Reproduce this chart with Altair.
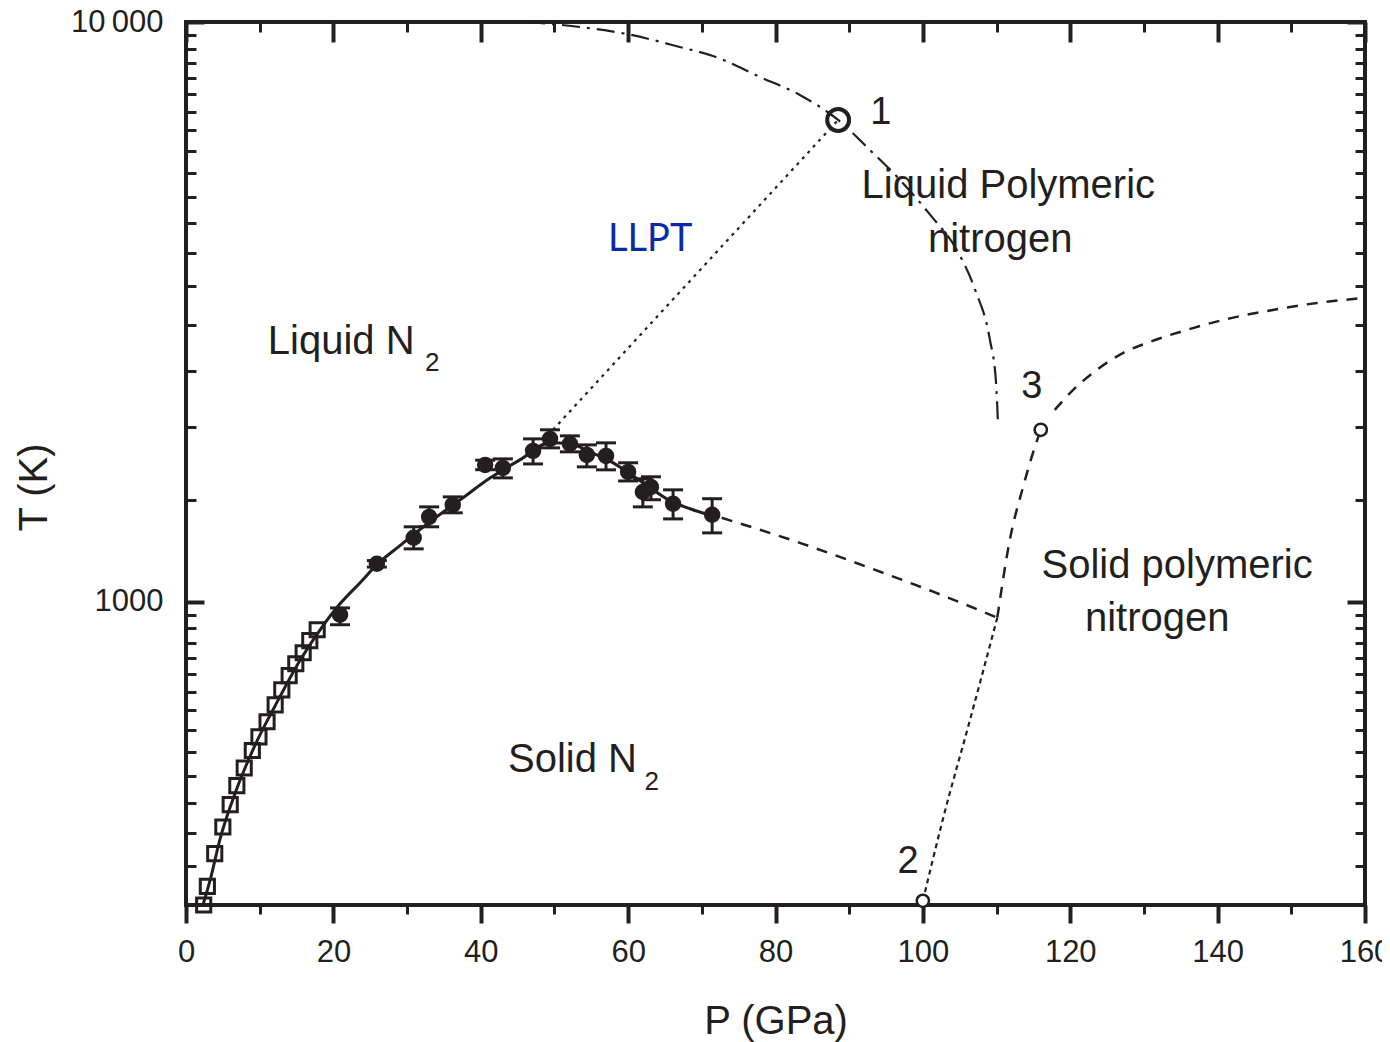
import altair as alt
import pandas as pd

# ---------------- data ----------------
# open squares (low-pressure melting data)
sq_P = [2.4, 2.9, 3.9, 5.0, 6.0, 6.9, 7.9, 9.0, 9.9, 11.0, 12.1, 13.0, 14.0, 14.9, 15.9, 16.8, 17.8]
sq_T = [300, 323, 368, 409, 447, 482, 517, 554, 585, 621, 664, 705, 746, 782, 817, 857, 895]

# filled circles with error bars
ci_P = [20.9, 25.9, 30.9, 33.0, 36.2, 40.6, 43.0, 47.1, 49.4, 52.1, 54.4, 57.0, 60.0, 62.0, 63.1, 66.1, 71.4]
ci_T = [950, 1163, 1290, 1401, 1470, 1722, 1702, 1821, 1910, 1873, 1792, 1785, 1675, 1547, 1578, 1476, 1413]
ci_lo = [913, 1148, 1234, 1347, 1424, 1690, 1636, 1729, 1843, 1814, 1709, 1689, 1616, 1458, 1500, 1390, 1315]
ci_hi = [976, 1178, 1347, 1458, 1517, 1755, 1764, 1910, 1980, 1933, 1865, 1880, 1737, 1630, 1643, 1560, 1506]

# solid melting curve
fit_P = [2.3, 3.3, 4.6, 6.7, 9.4, 12.1, 15.5, 18.2, 20.9, 23.6, 25.9, 29.0, 33.1, 37.2, 41.3,
         45.3, 49.4, 52.1, 54.8, 57.5, 60.3, 63.0, 65.7, 68.4, 71.4]
fit_T = [300, 332, 389, 469, 567, 662, 794, 895, 992, 1078, 1159, 1249, 1374, 1499, 1636,
         1757, 1880, 1873, 1814, 1750, 1662, 1572, 1493, 1447, 1407]

# dashed extrapolated melting line
ext_P = [72.7, 83.3, 92.4, 101.4, 110.1]
ext_T = [1396, 1264, 1149, 1041, 939]

# dotted LLPT line (to point 1)
llpt_P = [49.8, 88.5]
llpt_T = [1980, 6777]

# dash-dot line through point 1
dd_P = [46.3, 53.5, 59.8, 67.0, 71.5, 77.9, 83.3, 88.5, 92.8, 96.9, 101.0, 104.6, 107.1, 109.1, 109.9, 110.2]
dd_T = [10000, 9803, 9535, 9056, 8737, 8037, 7484, 6777, 6016, 5340, 4648, 4045, 3451, 2829, 2414, 2019]

# dotted line from point 2 to the junction
dot2_P = [100.0, 102.7, 106.4, 110.1]
dot2_T = [305, 421, 626, 939]

# dashed line from junction to point 3
dj3_P = [110.1, 111.8, 113.6, 115.2, 116.0]
dj3_T = [939, 1279, 1578, 1850, 1980]

# dashed line from point 3 to the right
d3r_P = [117.9, 120.4, 123.6, 127.2, 130.8, 135.8, 141.3, 147.5, 153.5, 160.0]
d3r_T = [2143, 2320, 2512, 2688, 2807, 2944, 3075, 3187, 3277, 3343]

# special points
pt1_P, pt1_T = [88.5], [6777]
pt23_P, pt23_T = [100.0, 116.0], [305, 1980]

# axis ticks
x_major = [0, 20, 40, 60, 80, 100, 120, 140, 160]
x_minor = [10, 30, 50, 70, 90, 110, 130, 150]
y_major = [1000, 10000]
y_minor = [350, 400, 450, 500, 550, 600, 650, 700, 750, 800, 850, 900, 950,
           1500, 2000, 2500, 3000, 3500, 4000, 4500, 5000, 5500, 6000, 6500,
           7000, 7500, 8000, 8500, 9000, 9500]

# text labels
lab_left_text = ["Liquid N", "Solid N"]
lab_left_P = [11.1, 43.7]
lab_left_T = [2807, 534]
sub_text = ["2", "2"]
sub_P = [33.4, 63.2]
sub_T = [2583, 489]
lab_c_text = ["Liquid Polymeric", "nitrogen", "Solid polymeric", "nitrogen", "1", "2", "3"]
lab_c_P = [111.6, 110.5, 134.5, 131.8, 94.3, 98.0, 114.8]
lab_c_T = [5214, 4208, 1154, 935, 6967, 356, 2348]
lab_c_size = [40, 40, 40, 40, 38, 38, 38]
llpt_text = ["LLPT"]
llpt_tP = [63.0]
llpt_tT = [4208]

# ---------------- chart ----------------
INK = "#231f20"
FONT = "Liberation Sans"
xs = alt.Scale(domain=[0, 160], nice=False, zero=False)
ys = alt.Scale(type="log", domain=[300, 10000], nice=False)


def df(P, T, **extra):
    d = {"P": P, "T": T}
    d.update(extra)
    d = pd.DataFrame(d)
    d["i"] = range(len(d))
    return d


def ax(orient, values, size, width, offset=0, **kw):
    return alt.Axis(orient=orient, values=values, tickSize=size, tickWidth=width,
                    tickColor=INK, domain=False, grid=False, offset=offset,
                    labels=kw.pop("labels", False), title=kw.pop("title", None), **kw)


ax_bottom_major = ax("bottom", x_major, 18, 4, labels=True, title="P (GPa)",
                     labelFont=FONT, labelFontSize=31, labelColor=INK, labelPadding=38,
                     labelBaseline="alphabetic", labelFlush=False, labelOverlap=False,
                     titleFont=FONT, titleFontSize=40, titleFontWeight="normal", titleColor=INK,
                     titleY=128, titleBaseline="alphabetic")
ax_bottom_minor = ax("bottom", x_minor, 9, 3)
ax_top_major = ax("top", x_major, 20, 4, offset=-20)
ax_top_minor = ax("top", x_minor, 10, 3, offset=-10)
ax_left_major = ax("left", y_major, 18, 4, offset=-18, labels=True, title="T (K)",
                   labelFont=FONT, labelFontSize=31, labelColor=INK, labelPadding=23,
                   labelFlush=False, labelOverlap=False,
                   labelExpr="datum.value >= 10000 ? '10\u2009000' : '1000'",
                   titleFont=FONT, titleFontSize=40, titleFontWeight="normal", titleColor=INK,
                   titleX=-158, titleY=465, titleBaseline="alphabetic", titleAngle=270)
ax_left_minor = ax("left", y_minor, 10, 3, offset=-10)
ax_right_major = ax("right", y_major, 18, 4, offset=-18)
ax_right_minor = ax("right", y_minor, 10, 3, offset=-10)


def enc(xaxis=None, yaxis=None):
    return dict(
        x=alt.X("P:Q", scale=xs, axis=xaxis),
        y=alt.Y("T:Q", scale=ys, axis=yaxis),
    )


fit = alt.Chart(df(fit_P, fit_T)).mark_line(color=INK, strokeWidth=3, interpolate="monotone").encode(
    order="i:Q", **enc(ax_bottom_major, ax_left_major))

squares = alt.Chart(df(sq_P, sq_T)).mark_square(filled=False, size=200, strokeWidth=3, color=INK, opacity=1).encode(
    **enc(ax_bottom_minor, ax_left_minor))

circ_df = df(ci_P, ci_T, lo=ci_lo, hi=ci_hi)
circles = alt.Chart(circ_df).mark_circle(size=270, color=INK, opacity=1).encode(
    **enc(ax_top_major, ax_right_major))

err = alt.Chart(circ_df).mark_rule(color=INK, strokeWidth=3).encode(
    x=alt.X("P:Q", scale=xs, axis=ax_top_minor),
    y=alt.Y("lo:Q", scale=ys, axis=ax_right_minor),
    y2="hi:Q")

caps = alt.Chart(circ_df).transform_fold(["lo", "hi"], as_=["k", "v"]).mark_tick(
    orient="horizontal", size=20, thickness=3, color=INK, opacity=1).encode(
    x=alt.X("P:Q", scale=xs, axis=None),
    y=alt.Y("v:Q", scale=ys, axis=None))


def line(P, T, dash, width=2.5):
    return alt.Chart(df(P, T)).mark_line(color=INK, strokeWidth=width, strokeDash=dash,
                                         interpolate="monotone" if len(P) > 2 else "linear").encode(
        order="i:Q", **enc())


ext = line(ext_P, ext_T, [11, 9])
llpt = line(llpt_P, llpt_T, [3, 5], 2.2)
dd = line(dd_P, dd_T, [18, 7, 3, 7], 2.2)
dot2 = line(dot2_P, dot2_T, [5, 4], 2.2)
dj3 = line(dj3_P, dj3_T, [11, 9])
d3r = line(d3r_P, d3r_T, [11, 9])

pt1 = alt.Chart(df(pt1_P, pt1_T)).mark_point(shape="circle", size=480, strokeWidth=4, filled=False,
                                             color=INK, opacity=1).encode(**enc())
pt23 = alt.Chart(df(pt23_P, pt23_T)).mark_point(shape="circle", size=150, strokeWidth=2.5, filled=True,
                                                fill="white", stroke=INK, opacity=1, fillOpacity=1).encode(**enc())

t_left = alt.Chart(df(lab_left_P, lab_left_T, text=lab_left_text)).mark_text(
    font=FONT, fontSize=40, align="left", baseline="middle", color=INK).encode(text="text:N", **enc())
t_sub = alt.Chart(df(sub_P, sub_T, text=sub_text)).mark_text(
    font=FONT, fontSize=26, align="center", baseline="middle", color=INK).encode(text="text:N", **enc())
t_c = alt.Chart(df(lab_c_P, lab_c_T, text=lab_c_text, fs=lab_c_size)).mark_text(
    font=FONT, align="center", baseline="middle", color=INK).encode(
    text="text:N", size=alt.Size("fs:Q", scale=None), **enc())
t_llpt = alt.Chart(df(llpt_tP, llpt_tT, text=llpt_text)).mark_text(
    font="Lato", fontSize=38, align="center", baseline="middle", color="#0a2aa5").encode(text="text:N", **enc())

chart = alt.layer(
    fit, squares, circles, err, caps, ext, llpt, dd, dot2, dj3, d3r, pt1, pt23,
    t_left, t_sub, t_c, t_llpt
).resolve_axis(x="independent", y="independent").properties(
    width=1179, height=883,
    autosize=alt.AutoSizeParams(type="none"),
    padding={"left": 178, "top": 14, "right": 17, "bottom": 142},
    background="white",
).configure_view(stroke=INK, strokeWidth=4)

chart.save("out.html", embed_options={"renderer": "svg", "actions": False})
